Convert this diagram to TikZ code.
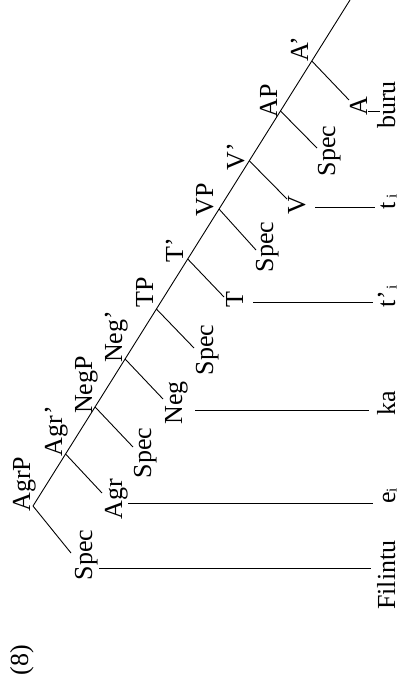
\documentclass[tikz,border=0pt]{standalone}
\usepackage{fontspec}
\setmainfont{Liberation Serif}
\newcommand{\smallsub}[1]{\raisebox{-1.5pt}{\fontsize{15}{15}\selectfont #1}}
\begin{document}
\begin{tikzpicture}[x=1pt,y=-1pt,
  lbl/.style={rotate=90,anchor=base,inner sep=0pt,font=\fontsize{26}{30}\selectfont},
  ln/.style={line width=0.9pt}]
\useasboundingbox (0,0) rectangle (403,687);
% spine junctions
\coordinate (top) at (350,0);
\coordinate (jAgrP) at (33,506);
\coordinate (jAgrb) at (65.6,454);
\coordinate (jNegP) at (95.1,407);
\coordinate (jNegb) at (125.1,359);
\coordinate (jTP) at (156.4,309);
\coordinate (jTb) at (187.7,259);
\coordinate (jVP) at (219,209);
\coordinate (jVb) at (249.5,161);
\coordinate (jAP) at (280.5,111);
\coordinate (jAb) at (311.8,61);
% branch ends
\coordinate (eSpecA) at (71,553);
\coordinate (eAgr) at (102,493);
\coordinate (eSpecB) at (133,447);
\coordinate (eNeg) at (163,399);
\coordinate (eSpecC) at (194,348);
\coordinate (eT) at (224,297);
\coordinate (eSpecD) at (256,250);
\coordinate (eV) at (287,199);
\coordinate (eSpecE) at (317,148);
\coordinate (eA) at (349,100);
% spine and branches
\draw[ln] (jAgrP) -- (top);
\draw[ln] (jAgrP) -- (eSpecA);
\draw[ln] (jAgrb) -- (eAgr);
\draw[ln] (jNegP) -- (eSpecB);
\draw[ln] (jNegb) -- (eNeg);
\draw[ln] (jTP) -- (eSpecC);
\draw[ln] (jTb) -- (eT);
\draw[ln] (jVP) -- (eSpecD);
\draw[ln] (jVb) -- (eV);
\draw[ln] (jAP) -- (eSpecE);
\draw[ln] (jAb) -- (eA);
% internal labels
\node[lbl] (lAgrP) at (30,484) {AgrP};
\node[lbl] (lAgrb) at (62,431) {Agr’};
\node[lbl] (lNegP) at (92,385) {NegP};
\node[lbl] (lNegb) at (122,337) {Neg’};
\node[lbl] (lTP) at (153,292) {TP};
\node[lbl] (lTb) at (183,250) {T’};
\node[lbl] (lVP) at (213,200) {VP};
\node[lbl] (lVb) at (244,157) {V’};
\node[lbl] (lAP) at (277,101) {AP};
\node[lbl] (lAb) at (308,49) {A’};
% terminal labels
\node[lbl] (tSpecA) at (92,555) {Spec};
\node[lbl] (tAgr) at (122,499) {Agr};
\node[lbl] (tSpecB) at (151,453) {Spec};
\node[lbl] (tNeg) at (182,403) {Neg};
\node[lbl] (tSpecC) at (213,350) {Spec};
\node[lbl] (tT) at (243,300) {T};
\node[lbl] (tSpecD) at (273,247) {Spec};
\node[lbl] (tV) at (305,205) {V};
\node[lbl] (tSpecE) at (335,151) {Spec};
\node[lbl] (tA) at (367,106) {A};
% words
\node[lbl] (wFilintu) at (395,575) {Filintu};
\node[lbl] (wei) at (395,496) {e\smallsub{i}};
\node[lbl] (wka) at (395,403) {ka};
\node[lbl] (wtpi) at (395,296) {t’\hspace{2pt}\smallsub{i}};
\node[lbl] (wti) at (395,202) {t\hspace{4pt}\smallsub{i}};
\node[lbl] (wburu) at (395,105) {buru};
\node[lbl] (num) at (28,660) {(8)};
% connecting lines
\coordinate (a1) at (99,568);  \coordinate (b1) at (371,568);
\coordinate (a2) at (128,503); \coordinate (b2) at (373,503);
\coordinate (a3) at (195,410); \coordinate (b3) at (369,410);
\coordinate (a4) at (253,302); \coordinate (b4) at (373,302);
\coordinate (a5) at (315,207); \coordinate (b5) at (375,207);
\coordinate (a6) at (368,111); \coordinate (b6) at (380,111);
\draw[ln] (a1) -- (b1);
\draw[ln] (a2) -- (b2);
\draw[ln] (a3) -- (b3);
\draw[ln] (a4) -- (b4);
\draw[ln] (a5) -- (b5);
\draw[ln] (a6) -- (b6);
\end{tikzpicture}
\end{document}
